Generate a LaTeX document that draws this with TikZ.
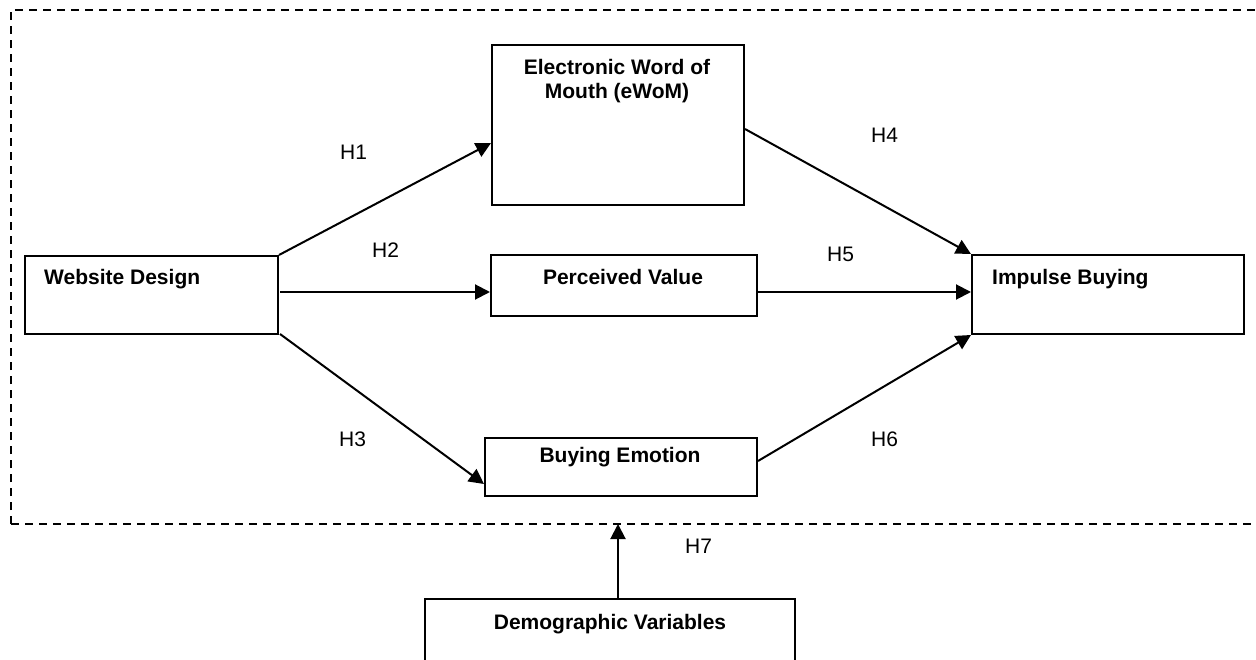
\documentclass[tikz,border=0pt]{standalone}
\usepackage{fontspec}
\setmainfont{Liberation Sans}
\usetikzlibrary{arrows.meta}
\begin{document}
\begin{tikzpicture}[x=1pt,y=-1pt,
  box/.style={draw=black,line width=2pt,rectangle,inner sep=0pt,anchor=north west},
  lbl/.style={font=\fontsize{21}{24}\selectfont\bfseries,inner sep=0pt},
  hyp/.style={font=\fontsize{21}{24}\selectfont,inner sep=0pt,anchor=base west},
  arr/.style={line width=2pt,-{Triangle[length=15pt,width=15pt]}},
  frame/.style={line width=2pt,dash pattern=on 8pt off 6pt}]
\useasboundingbox (0,0) rectangle (1256,660);
\clip (0,0) rectangle (1256,660);
% dashed frame
\draw[frame] (11,524) -- (11,10) -- (1262,10);
\draw[frame] (11,524) -- (1262,524);
% boxes
\node[box,minimum width=253pt,minimum height=78pt] (wd) at (24,255) {};
\node[box,minimum width=252pt,minimum height=160pt] (ew) at (491,44) {};
\node[box,minimum width=266pt,minimum height=61pt] (pv) at (490,254) {};
\node[box,minimum width=272pt,minimum height=79pt] (ib) at (971,254) {};
\node[box,minimum width=272pt,minimum height=58pt] (be) at (484,437) {};
\node[box,minimum width=370pt,minimum height=90pt] (dv) at (424,598) {};
% box texts
\node[lbl,anchor=base west] (wdt) at (44,285) {Website Design};
\node[lbl,anchor=base,align=center] (ewt) at (617,99) {Electronic Word of\\Mouth (eWoM)};
\node[lbl,anchor=base] (pvt) at (623,285) {Perceived Value};
\node[lbl,anchor=base west] (ibt) at (992,285) {Impulse Buying};
\node[lbl,anchor=base] (bet) at (620,462) {Buying Emotion};
\node[lbl,anchor=base] (dvt) at (610,629) {Demographic Variables};
% connectors
\coordinate (h7end) at (618,524);
\draw[arr] (wd.north east) -- ([yshift=-18pt]ew.west);
\draw[arr] ([xshift=1pt,yshift=3pt]wd.east) -- ([yshift=-6.5pt]pv.west);
\draw[arr] ([xshift=1pt,yshift=1pt]wd.south east) -- ([yshift=-17pt]be.west);
\draw[arr] ([yshift=-4pt]ew.east) -- (ib.north west);
\draw[arr] ([yshift=-6.5pt]pv.east) -- ([yshift=2.5pt]ib.west);
\draw[arr] ([yshift=6pt]be.east) -- (ib.south west);
\draw[arr] (dv.north -| h7end) -- (h7end);
% hypothesis labels
\node[hyp] (h1) at (340,160) {H1};
\node[hyp] (h2) at (372,258) {H2};
\node[hyp] (h3) at (339,446) {H3};
\node[hyp] (h4) at (871,143) {H4};
\node[hyp] (h5) at (827,262) {H5};
\node[hyp] (h6) at (871,446) {H6};
\node[hyp] (h7) at (685,553) {H7};
\end{tikzpicture}
\end{document}
